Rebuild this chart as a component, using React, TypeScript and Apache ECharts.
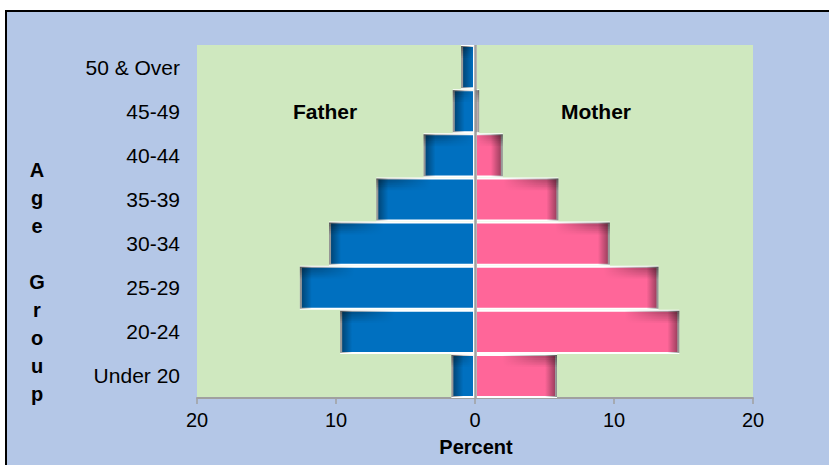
import React, { useEffect, useRef } from "react";
import * as echarts from "echarts";

const categories = ["Under 20", "20-24", "25-29", "30-34", "35-39", "40-44", "45-49", "50 & Over"];
const father = [1.7, 9.7, 12.6, 10.5, 7.1, 3.7, 1.6, 1.0];
const mother = [5.9, 14.7, 13.2, 9.7, 6.0, 2.0, 0.3, 0.1];
const xTicks = { min: -20, max: 20, interval: 10 };

const FONT = "'Liberation Sans', Arial, sans-serif";

export default function App() {
  const ref = useRef<HTMLDivElement>(null);
  useEffect(() => {
    if (!ref.current) return;
    const chart = echarts.init(ref.current, null, { renderer: "svg" });
    const shadowData: any[] = [];
    father.forEach((v, i) => shadowData.push([-v, i]));
    mother.forEach((v, i) => shadowData.push([v, i]));

    const renderShadow = (params: any, api: any) => {
      const val = api.value(0);
      const idx = api.value(1);
      const p0 = api.coord([0, idx]);
      const p1 = api.coord([val, idx]);
      const h = api.size([0, 1])[1];
      const top = p0[1] - h / 2 + 1;
      const w = Math.abs(p1[0] - p0[0]);
      if (w < 2) return { type: "group", children: [] };
      const left = val < 0;
      const outerX = p1[0];
      const sw = Math.min(12, w);
      const tw = Math.min(55, w);
      const children: any[] = [
        {
          type: "rect",
          shape: { x: left ? outerX : outerX - sw, y: top, width: sw, height: h - 2 },
          style: {
            fill: new echarts.graphic.LinearGradient(left ? 0 : 1, 0, left ? 1 : 0, 0, [
              { offset: 0, color: "rgba(0,0,0,0.45)" },
              { offset: 1, color: "rgba(0,0,0,0)" },
            ]),
          },
        },
      ];
      const n = 7;
      for (let k = 0; k < n; k++) {
        const a = 0.38 * (1 - k / n);
        children.push({
          type: "rect",
          shape: { x: left ? outerX : outerX - tw, y: top + k * 1.7, width: tw, height: 1.7 },
          style: {
            fill: new echarts.graphic.LinearGradient(left ? 0 : 1, 0, left ? 1 : 0, 0, [
              { offset: 0, color: `rgba(0,0,0,${a})` },
              { offset: 0.4, color: `rgba(0,0,0,${a * 0.7})` },
              { offset: 1, color: "rgba(0,0,0,0)" },
            ]),
          },
        });
      }
      return { type: "group", children };
    };

    chart.setOption({
      animation: false,
      grid: { left: 197, right: 76, top: 45, bottom: 67, show: true, backgroundColor: "#cfe8bf", borderWidth: 0, containLabel: false },
      xAxis: {
        type: "value",
        min: xTicks.min,
        max: xTicks.max,
        interval: xTicks.interval,
        splitLine: { show: false },
        axisLine: { show: true, lineStyle: { color: "#a0a0a0", width: 2 } },
        axisTick: { show: true, length: 6, lineStyle: { color: "#a0a0a0", width: 1.5 } },
        axisLabel: { formatter: (v: number) => String(Math.abs(v)), fontSize: 20, color: "#000", margin: 12, fontFamily: FONT },
      },
      yAxis: {
        type: "category",
        data: categories,
        axisLine: { show: false },
        axisTick: { show: false },
        axisLabel: { fontSize: 21, color: "#000", margin: 17, fontFamily: FONT },
      },
      series: [
        {
          type: "bar",
          name: "Father",
          data: father.map((v) => -v),
          barGap: "-100%",
          barCategoryGap: "0%",
          itemStyle: { color: "#0070c0", borderColor: "#ffffff", borderWidth: 2 },
        },
        {
          type: "bar",
          name: "Mother",
          data: mother,
          barGap: "-100%",
          barCategoryGap: "0%",
          itemStyle: { color: "#ff6699", borderColor: "#ffffff", borderWidth: 2 },
        },
        {
          type: "custom",
          silent: true,
          z: 5,
          renderItem: renderShadow,
          encode: { x: 0, y: 1 },
          data: shadowData,
          markLine: {
            silent: true,
            symbol: ["none", "none"],
            label: { show: false },
            lineStyle: { color: "#a0a0a0", width: 2.5, type: "solid" },
            data: [{ xAxis: 0 }],
          },
        },
      ],
      graphic: [
        { type: "text", x: 325, y: 111, style: { text: "Father", fontSize: 21, fontWeight: "bold", fill: "#000", align: "center", verticalAlign: "middle", fontFamily: FONT } },
        { type: "text", x: 596, y: 111, style: { text: "Mother", fontSize: 21, fontWeight: "bold", fill: "#000", align: "center", verticalAlign: "middle", fontFamily: FONT } },
        { type: "text", x: 476, y: 447, style: { text: "Percent", fontSize: 20, fontWeight: "bold", fill: "#000", align: "center", verticalAlign: "middle", fontFamily: FONT } },
        {
          type: "text",
          x: 37,
          y: 282,
          style: {
            text: "A\ng\ne\n\nG\nr\no\nu\np",
            fontSize: 20,
            fontWeight: "bold",
            lineHeight: 28,
            fill: "#000",
            align: "center",
            verticalAlign: "middle",
            fontFamily: FONT,
          },
        },
      ],
    });
    return () => chart.dispose();
  }, []);

  return (
    <div style={{ position: "fixed", left: 0, top: 0, width: 829, height: 465, overflow: "hidden", background: "#ffffff" }}>
      <div style={{ position: "absolute", left: 5, top: 10, width: 900, height: 600, border: "2px solid #000", background: "#b4c7e7" }} />
      <div ref={ref} style={{ position: "absolute", left: 0, top: 0, width: 829, height: 465 }} />
    </div>
  );
}
